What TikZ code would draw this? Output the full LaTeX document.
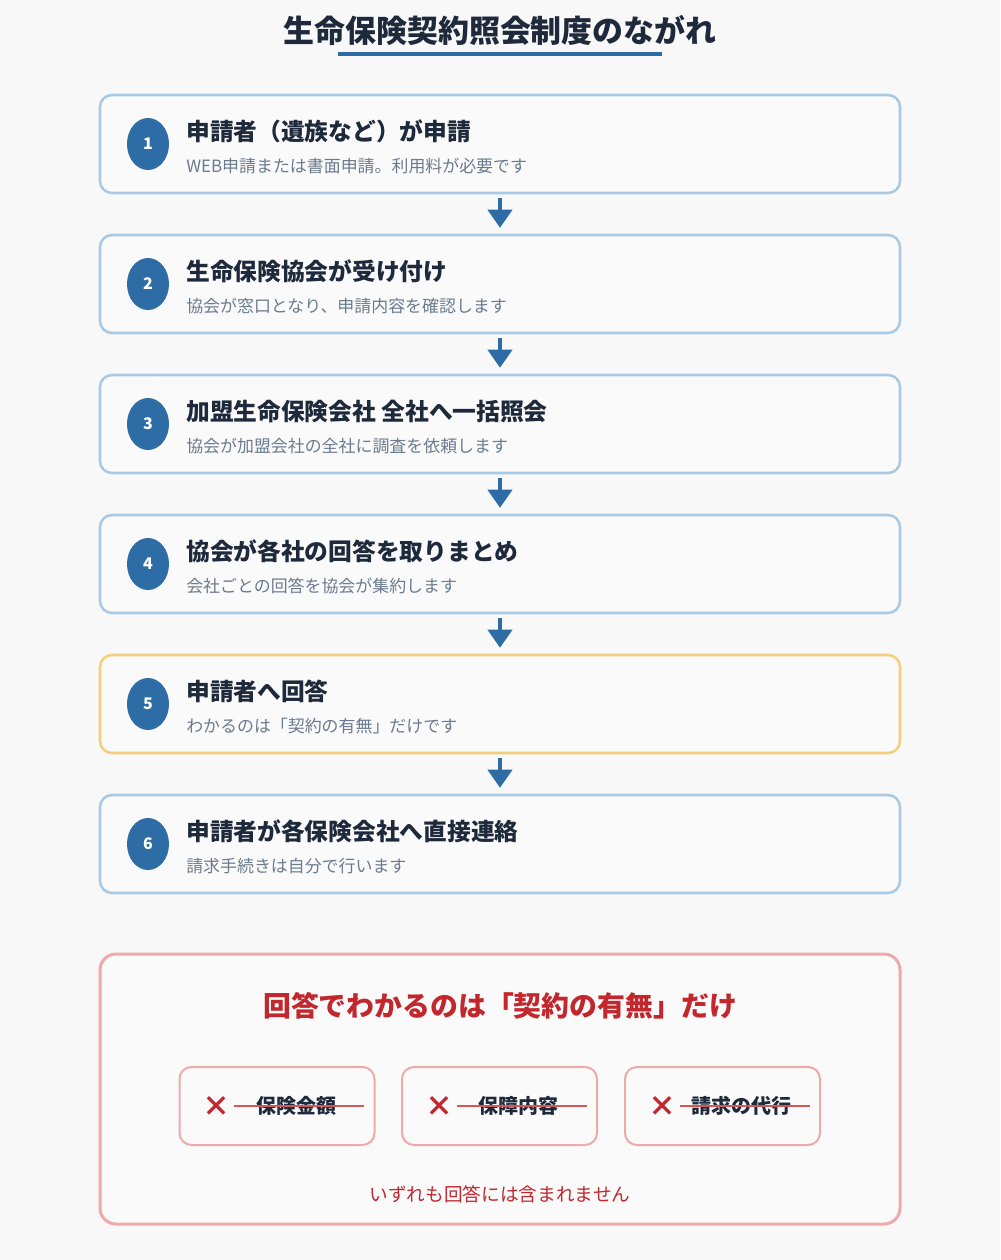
\documentclass[tikz,border=0pt]{standalone}
\usepackage{fontspec}
\setmainfont{Noto Sans CJK JP}
\usetikzlibrary{arrows.meta,shapes.geometric}

\definecolor{bgpaper}{HTML}{F8F8F8}
\definecolor{boxfill}{HTML}{FAFAFA}
\definecolor{ink}{HTML}{1E2A3B}
\definecolor{flowblue}{HTML}{2D6CA5}
\definecolor{stepline}{HTML}{A9C9E2}
\definecolor{subgrey}{HTML}{6B7B8E}
\definecolor{goldline}{HTML}{F2CF7E}
\definecolor{pinkline}{HTML}{EEA9A9}
\definecolor{alarm}{HTML}{C1272D}
\definecolor{strikered}{HTML}{D45858}

\tikzset{
  stepbox/.style={draw=stepline,line width=1.9pt,fill=boxfill,rounded corners=9pt,
    minimum width=600pt,minimum height=73.5pt,inner sep=0pt},
  numdot/.style={ellipse,fill=flowblue,text=white,font=\fontsize{12}{12}\selectfont\bfseries,
    minimum width=31.5pt,minimum height=39pt,inner sep=0pt},
  steptitle/.style={anchor=west,inner sep=0pt,text=ink,font=\fontsize{17.8}{18}\selectfont\bfseries},
  stepsub/.style={anchor=west,inner sep=0pt,text=subgrey,font=\fontsize{12.7}{13}\selectfont},
  flow/.style={draw=flowblue,line width=3pt,-{Triangle[width=18pt,length=13.5pt]},
    shorten <=3pt,shorten >=4.5pt},
  chip/.style={draw=pinkline,line width=1.5pt,fill=boxfill,rounded corners=9pt,
    minimum width=146.25pt,minimum height=58.5pt,inner sep=0pt},
  cross/.style={text=alarm,font=\fontsize{21}{21}\selectfont\bfseries,inner sep=0pt},
  chiptext/.style={text=ink,font=\fontsize{15}{15}\selectfont\bfseries,inner sep=0pt},
  strike/.style={draw=strikered,line width=1.6pt}
}

\begin{document}
\begin{tikzpicture}[x=0.75pt,y=-0.75pt]

	% background
	\fill[bgpaper] (0,0) rectangle (1000,1260);
	\useasboundingbox (0,0) rectangle (1000,1260);

	% heading
	\node[text=ink,font=\fontsize{23.2}{24}\selectfont\bfseries,inner sep=0pt] (head) at (500,30) {生命保険契約照会制度のながれ};
	\draw[flowblue,line width=2.4pt] (338,54) -- (662,54); % underline

	% steps
	\node[stepbox] (s1) at (500,144) {};
	\node[stepbox] (s2) at (500,284) {};
	\node[stepbox] (s3) at (500,424) {};
	\node[stepbox] (s4) at (500,564) {};
	\node[stepbox,draw=goldline] (s5) at (500,704) {};
	\node[stepbox] (s6) at (500,844) {};

	% numbers
	\node[numdot] (n1) at (148,144) {1};
	\node[numdot] (n2) at (148,284) {2};
	\node[numdot] (n3) at (148,424) {3};
	\node[numdot] (n4) at (148,564) {4};
	\node[numdot] (n5) at (148,704) {5};
	\node[numdot] (n6) at (148,844) {6};

	% labels
	\node[steptitle] (t1) at (186,131) {申請者（遺族など）が申請};
	\node[stepsub] (d1) at (186,166) {WEB申請または書面申請。利用料が必要です};
	\node[steptitle] (t2) at (186,271) {生命保険協会が受け付け};
	\node[stepsub] (d2) at (186,306) {協会が窓口となり、申請内容を確認します};
	\node[steptitle] (t3) at (186,411) {加盟生命保険会社 全社へ一括照会};
	\node[stepsub] (d3) at (186,446) {協会が加盟会社の全社に調査を依頼します};
	\node[steptitle] (t4) at (186,551) {協会が各社の回答を取りまとめ};
	\node[stepsub] (d4) at (186,586) {会社ごとの回答を協会が集約します};
	\node[steptitle] (t5) at (186,691) {申請者へ回答};
	\node[stepsub] (d5) at (186,726) {わかるのは「契約の有無」だけです};
	\node[steptitle] (t6) at (186,831) {申請者が各保険会社へ直接連絡};
	\node[stepsub] (d6) at (186,866) {請求手続きは自分で行います};

	% arrows between steps
	\draw[flow] (s1) -- (s2);
	\draw[flow] (s2) -- (s3);
	\draw[flow] (s3) -- (s4);
	\draw[flow] (s4) -- (s5);
	\draw[flow] (s5) -- (s6);

	% note panel
	\node[draw=pinkline,line width=2.25pt,fill=boxfill,rounded corners=12pt,
	  minimum width=600pt,minimum height=202.5pt,inner sep=0pt] (note) at (500,1089) {};
	\node[text=alarm,font=\fontsize{20.9}{22}\selectfont\bfseries,inner sep=0pt] (notehead) at (500,1006) {回答でわかるのは「契約の有無」だけ};

	% chips
	\node[chip] (c1) at (277,1106) {};
	\node[chip] (c2) at (499.5,1106) {};
	\node[chip] (c3) at (722.5,1106) {};

	\node[cross] (x1) at (216,1106) {×};
	\node[cross] (x2) at (439,1106) {×};
	\node[cross] (x3) at (662,1106) {×};

	\node[chiptext] (k1) at (296,1106) {保険金額};
	\node[chiptext] (k2) at (518,1106) {保障内容};
	\node[chiptext] (k3) at (741,1106) {請求の代行};

	% strike lines
	\draw[strike] ([xshift=3pt]x1.east) -- ++(130,0);
	\draw[strike] ([xshift=3pt]x2.east) -- ++(130,0);
	\draw[strike] ([xshift=3pt]x3.east) -- ++(130,0);

	\node[text=alarm,font=\fontsize{14}{14}\selectfont,inner sep=0pt] (foot) at (500,1194) {いずれも回答には含まれません};

\end{tikzpicture}
\end{document}
